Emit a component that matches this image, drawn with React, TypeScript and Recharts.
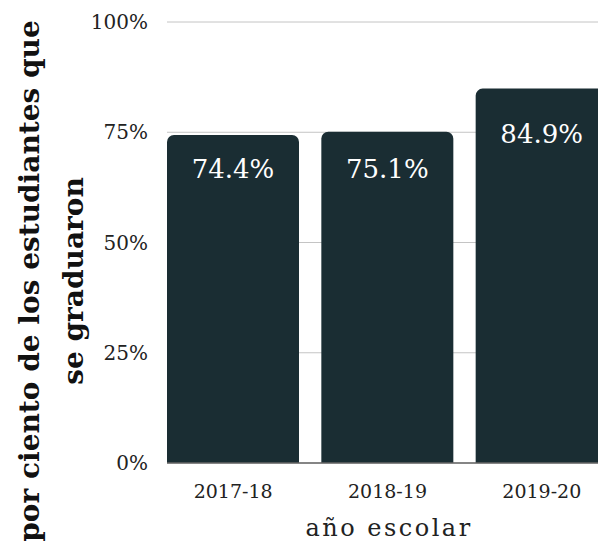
import { BarChart, Bar, XAxis, YAxis, CartesianGrid, LabelList } from 'recharts';

const years = ['2017-18', '2018-19', '2019-20'];
const gradRates = [74.4, 75.1, 84.9];
const yTicks = [0, 25, 50, 75, 100];

const data = years.map((year, i) => ({ year, rate: gradRates[i] }));

const serif = '"DejaVu Serif", serif';
const barColor = '#1a2d33';

// labels sit a bit lower in the tall bar
const labelDrop = [43, 46, 54];

const renderValue = (props: any) => {
  const { x, y, width, value, index } = props;
  return (
    <text
      x={x + width / 2}
      y={y + labelDrop[index]}
      textAnchor="middle"
      fill="#ffffff"
      fontFamily={serif}
      fontSize={26}
    >
      {`${value}%`}
    </text>
  );
};

const renderYLabel = () => (
  <g fontFamily={serif} fontWeight="bold" fontSize={28} fill="#111">
    <text transform="translate(39, 281) rotate(-90)" textAnchor="middle">
      por ciento de los estudiantes que
    </text>
    <text transform="translate(83, 281) rotate(-90)" textAnchor="middle">
      se graduaron
    </text>
  </g>
);

const renderXLabel = () => (
  <text
    x={389}
    y={536}
    textAnchor="middle"
    fontFamily={serif}
    fontSize={24}
    letterSpacing={2.5}
    fill="#222"
  >
    año escolar
  </text>
);

export default function App() {
  return (
    <div style={{ position: 'absolute', left: 0, top: 0 }}>
      <BarChart
        width={598}
        height={546}
        data={data}
        margin={{ top: 22, right: 0, bottom: 0, left: 0 }}
      >
        <CartesianGrid vertical={false} stroke="#c4c4c4" strokeWidth={1} />
        <XAxis
          dataKey="year"
          padding={{ left: -11, right: -21 }}
          tickLine={false}
          axisLine={{ stroke: '#666', strokeWidth: 1.5 }}
          tick={{ fill: '#222', fontFamily: serif, fontSize: 19 }}
          tickMargin={16}
          height={83}
          label={renderXLabel}
        />
        <YAxis
          width={167}
          domain={[0, 100]}
          ticks={yTicks}
          tickFormatter={(v) => `${v}%`}
          tickLine={false}
          axisLine={false}
          tickSize={0}
          tickMargin={19}
          tick={{ fill: '#222', fontFamily: serif, fontSize: 20 }}
          label={renderYLabel}
        />
        <Bar
          dataKey="rate"
          fill={barColor}
          barSize={132}
          radius={[7, 7, 0, 0]}
          isAnimationActive={false}
        >
          <LabelList dataKey="rate" content={renderValue} />
        </Bar>
      </BarChart>
    </div>
  );
}
